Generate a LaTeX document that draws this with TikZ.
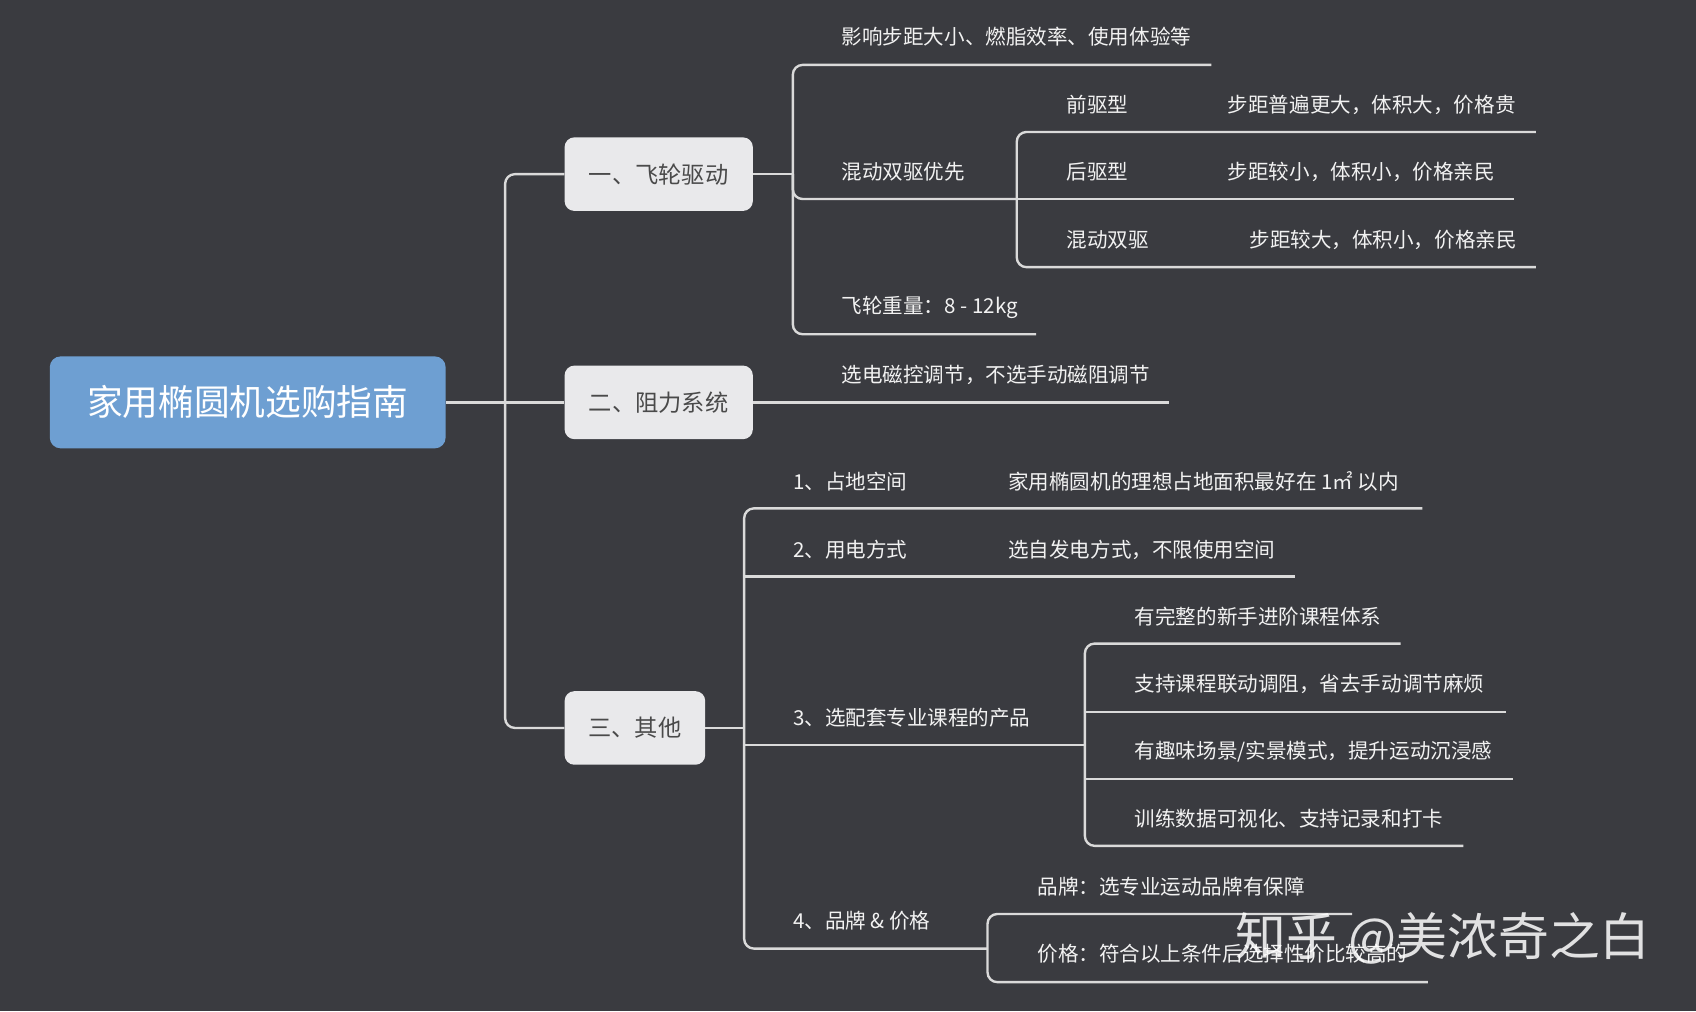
\documentclass[tikz,border=0pt]{standalone}
\usepackage{fontspec}
\setmainfont{Noto Sans CJK SC}
\begin{document}
\begin{tikzpicture}[x=1pt,y=-1pt,
  ln/.style={draw=lncol,line width=2.2pt,rounded corners=9pt},
  t/.style={anchor=west,text=txt,font=\fontsize{19}{21}\selectfont,inner sep=0pt},
  br/.style={fill=boxfill,rounded corners=9pt,text=boxtxt,font=\fontsize{21.5}{24}\selectfont,inner sep=0pt}]
\definecolor{bg}{HTML}{3A3B40}
\definecolor{lncol}{HTML}{DADADA}
\definecolor{txt}{HTML}{F2F2F2}
\definecolor{boxfill}{HTML}{E9E9EB}
\definecolor{boxtxt}{HTML}{4A4A4A}
\definecolor{rootfill}{HTML}{6E9FD2}
\fill[bg] (0,0) rectangle (1568,935);
\useasboundingbox (0,0) rectangle (1568,935);
% root and branches
\node[fill=rootfill,rounded corners=10pt,text=white,font=\fontsize{33}{36}\selectfont,minimum width=366pt,minimum height=85pt,inner sep=0pt] (root) at (229,372) {家用椭圆机选购指南};
\node[br,minimum width=174pt,minimum height=68pt] (b1) at (609,161) {一、飞轮驱动};
\node[br,minimum width=174pt,minimum height=68pt] (b2) at (609,372) {二、阻力系统};
\node[br,minimum width=130pt,minimum height=68pt] (b3) at (587,673) {三、其他};
\draw[ln] (root.east) -- (467,372);
\draw[ln] (b1.west) -- (467,161) -- (467,673) -- (b3.west);
\draw[ln] (467,372) -- (b2.west);
% branch 1
\node[t] (a1) at (778,34) {影响步距大小、燃脂效率、使用体验等};
\node[t] (a2) at (778,159) {混动双驱优先};
\node[t] (a3) at (778,284) {飞轮重量：8 - 12kg};
\draw[ln] (b1.east) -- (733,161);
\draw[ln] (1120,60) -- (733,60) -- (733,309) -- (958,309);
\draw[ln] (733,161) -- (733,184) -- (940,184);
\node[t] (c1) at (986,97) {前驱型};
\node[t] (c2) at (986,159) {后驱型};
\node[t] (c3) at (986,222) {混动双驱};
\node[t] (d1) at (1135,97) {步距普遍更大，体积大，价格贵};
\node[t] (d2) at (1135,159) {步距较小，体积小，价格亲民};
\node[t] (d3) at (1155,222) {步距较大，体积小，价格亲民};
\draw[ln] (1420,122) -- (940,122) -- (940,247) -- (1420,247);
\draw[ln] (940,184) -- (1400,184);
% branch 2
\node[t] (e1) at (778,347) {选电磁控调节，不选手动磁阻调节};
\draw[ln] (b2.east) -- (1081,372);
% branch 3
\node[t] (f1) at (733,445) {1、占地空间};
\node[t] (f1b) at (932,445) {家用椭圆机的理想占地面积最好在 1㎡ 以内};
\node[t] (f2) at (733,508) {2、用电方式};
\node[t] (f2b) at (932,508) {选自发电方式，不限使用空间};
\node[t] (f3) at (733,664) {3、选配套专业课程的产品};
\node[t] (f4) at (733,851) {4、品牌 \& 价格};
\draw[ln] (b3.east) -- (688,673);
\draw[ln] (1315,470) -- (688,470) -- (688,877) -- (913,877);
\draw[ln] (688,533) -- (1197,533);
\draw[ln] (688,689) -- (1003,689);
\node[t] (g1) at (1049,570) {有完整的新手进阶课程体系};
\node[t] (g2) at (1049,632) {支持课程联动调阻，省去手动调节麻烦};
\node[t] (g3) at (1049,695) {有趣味场景/实景模式，提升运动沉浸感};
\node[t] (g4) at (1049,757) {训练数据可视化、支持记录和打卡};
\draw[ln] (1295,595) -- (1003,595) -- (1003,782) -- (1353,782);
\draw[ln] (1003,658) -- (1392,658);
\draw[ln] (1003,720) -- (1399,720);
\node[t] (h1) at (959,820) {品牌：选专业运动品牌有保障};
\node[t] (h2) at (959,882) {价格：符合以上条件后选择性价比较高的};
\draw[ln] (1250,845) -- (913,845) -- (913,908) -- (1320,908);
% watermark
\node[anchor=west,text=white,opacity=0.85,font=\fontsize{47}{52}\selectfont,inner sep=0pt] (wm) at (1142,868) {知乎 @美浓奇之白};
\end{tikzpicture}
\end{document}
